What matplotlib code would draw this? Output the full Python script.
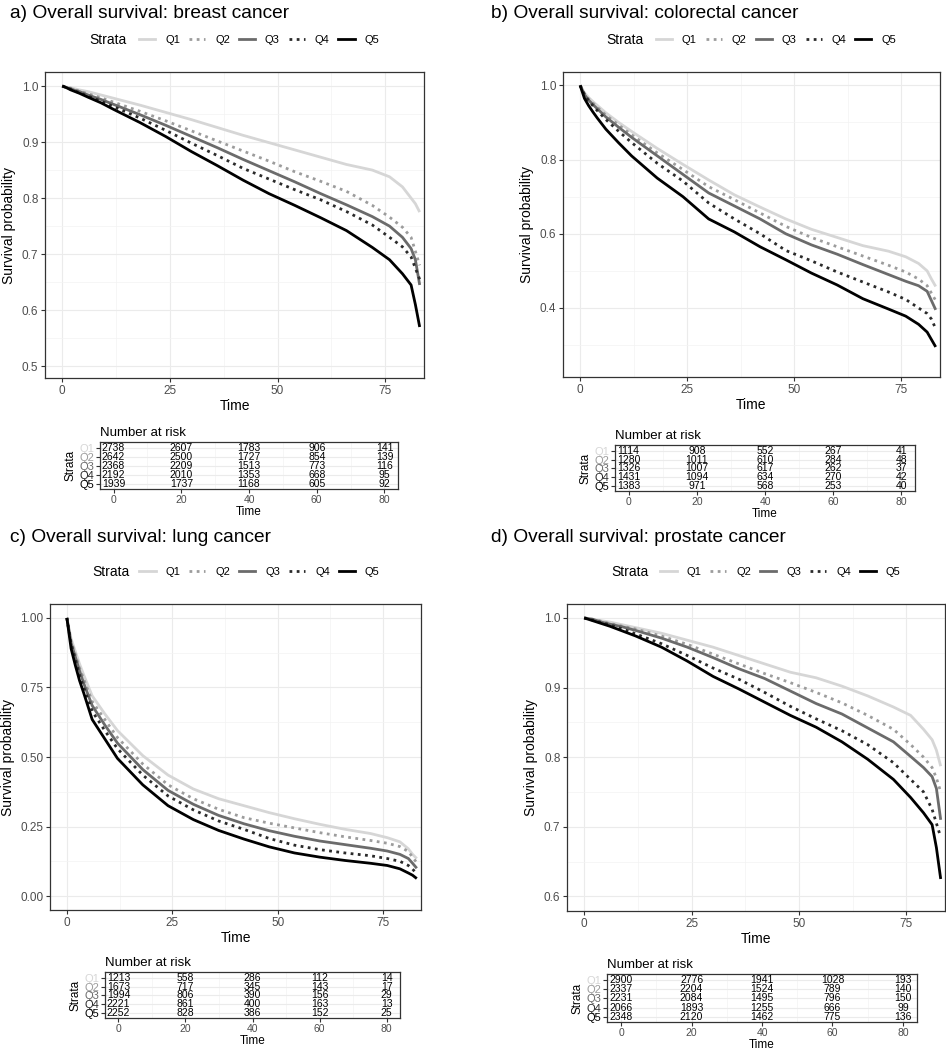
import matplotlib
matplotlib.use('Agg')
import matplotlib.pyplot as plt
from matplotlib.lines import Line2D

plt.rcParams['font.family'] = ['Liberation Sans', 'DejaVu Sans']

# follow-up time (months) at which the curves were read
months = [0, 1, 2, 3, 4, 6, 9, 12, 18, 24, 30, 36, 42, 48, 54, 60, 66, 72, 76, 79, 81, 82, 83]
strata = ['Q1', 'Q2', 'Q3', 'Q4', 'Q5']
risk_times = [0, 20, 40, 60, 80]

breast_surv = [
    [1.0, .998, .997, .995, .993, .99, .984, .978, .966, .953, .94, .926, .912, .899, .886, .873, .86, .85, .838, .82, .80, .79, .775],
    [1.0, .998, .996, .993, .991, .986, .979, .971, .955, .938, .92, .902, .884, .866, .847, .83, .812, .787, .766, .748, .73, .705, .68],
    [1.0, .997, .995, .992, .99, .984, .976, .967, .949, .93, .91, .89, .869, .849, .829, .808, .788, .767, .75, .73, .71, .69, .645],
    [1.0, .997, .994, .991, .988, .982, .973, .963, .943, .921, .898, .876, .853, .834, .815, .797, .776, .752, .73, .713, .695, .675, .655],
    [1.0, .997, .993, .99, .987, .98, .97, .958, .935, .91, .883, .858, .832, .808, .787, .765, .742, .712, .69, .665, .645, .61, .57],
]
colorectal_surv = [
    [1.0, .98, .967, .956, .946, .926, .90, .876, .83, .787, .745, .705, .672, .64, .612, .59, .568, .553, .538, .52, .50, .478, .458],
    [1.0, .978, .963, .952, .941, .92, .893, .867, .818, .773, .727, .692, .656, .62, .59, .565, .54, .515, .497, .478, .46, .44, .42],
    [1.0, .975, .96, .948, .937, .915, .887, .86, .81, .76, .71, .675, .64, .60, .57, .545, .517, .49, .472, .46, .445, .42, .395],
    [1.0, .975, .958, .945, .932, .908, .876, .846, .79, .742, .683, .64, .60, .555, .527, .497, .47, .443, .423, .40, .385, .37, .344],
    [1.0, .965, .945, .928, .912, .882, .845, .81, .75, .70, .64, .605, .565, .53, .494, .462, .425, .397, .378, .356, .335, .315, .295],
]
lung_surv = [
    [1.0, .925, .88, .835, .795, .72, .655, .595, .505, .435, .385, .35, .325, .30, .278, .258, .24, .225, .21, .195, .17, .15, .135],
    [1.0, .915, .87, .82, .78, .70, .635, .57, .475, .40, .35, .312, .282, .262, .245, .228, .213, .20, .19, .178, .16, .14, .12],
    [1.0, .91, .86, .81, .765, .685, .615, .55, .455, .38, .33, .29, .26, .235, .215, .198, .185, .172, .162, .15, .135, .118, .10],
    [1.0, .905, .85, .795, .75, .665, .595, .53, .435, .36, .31, .27, .24, .207, .183, .167, .155, .145, .135, .125, .11, .097, .08],
    [1.0, .89, .83, .775, .73, .635, .565, .495, .40, .325, .275, .236, .205, .177, .155, .14, .128, .118, .11, .098, .083, .075, .063],
]
prostate_surv = [
    [1.0, .999, .998, .997, .996, .994, .99, .986, .978, .968, .958, .946, .934, .922, .914, .902, .888, .872, .86, .84, .825, .81, .787],
    [1.0, .999, .998, .997, .995, .992, .988, .984, .974, .962, .948, .934, .92, .907, .893, .878, .86, .84, .818, .80, .785, .77, .75],
    [1.0, .999, .998, .996, .994, .991, .987, .982, .971, .958, .943, .927, .913, .895, .877, .862, .842, .822, .801, .785, .772, .755, .71],
    [1.0, .998, .997, .995, .993, .99, .984, .977, .963, .946, .928, .912, .893, .873, .855, .838, .818, .792, .768, .75, .725, .705, .685],
    [1.0, .998, .996, .994, .992, .988, .981, .974, .958, .938, .916, .898, .879, .86, .843, .822, .797, .768, .742, .72, .703, .67, .625],
]

breast_risk = [[2738, 2607, 1783, 906, 141], [2642, 2500, 1727, 854, 139], [2368, 2209, 1513, 773, 116],
               [2192, 2010, 1353, 668, 95], [1939, 1737, 1168, 605, 92]]
colorectal_risk = [[1114, 908, 552, 267, 41], [1280, 1011, 610, 284, 48], [1326, 1007, 617, 262, 37],
                   [1431, 1094, 634, 270, 42], [1383, 971, 568, 253, 40]]
lung_risk = [[1213, 558, 286, 112, 14], [1673, 717, 345, 143, 17], [1994, 806, 390, 156, 29],
             [2221, 861, 400, 163, 13], [2252, 828, 386, 152, 25]]
prostate_risk = [[2900, 2776, 1941, 1028, 193], [2337, 2204, 1524, 789, 140], [2231, 2084, 1495, 796, 150],
                 [2066, 1893, 1255, 666, 99], [2348, 2120, 1462, 775, 136]]

colors = ['#d6d6d6', '#9c9c9c', '#6b6b6b', '#2a2a2a', '#000000']
styles = ['-', (0, (1, 1.6)), '-', (0, (1, 1.6)), '-']

W, H = 946, 1050
fig = plt.figure(figsize=(W / 100, H / 100), dpi=100)


def rect(l, r, t, b):
    # pixel box -> figure fraction
    return [l / W, 1 - b / H, (r - l) / W, (b - t) / H]


def style_axes(ax):
    for sp in ax.spines.values():
        sp.set_color('#333333')
        sp.set_linewidth(0.9)
    ax.set_axisbelow(True)
    ax.grid(which='major', color='#ebebeb', lw=0.8)
    ax.grid(which='minor', color='#f3f3f3', lw=0.5)
    ax.tick_params(which='minor', length=0)
    ax.tick_params(which='major', length=2.75, width=0.8, color='#333333',
                   labelcolor='#4d4d4d', pad=2)


def draw_panel(title, title_pos, main_box, risk_box, surv, risk, ylim, yticks, yminor, fmt):
    fig.text(title_pos[0] / W, 1 - title_pos[1] / H, title, fontsize=13.8, va='center', ha='left')

    ax = fig.add_axes(rect(*main_box))
    for i in range(5):
        ax.plot(months, surv[i], color=colors[i], ls=styles[i], lw=2.0,
                solid_capstyle='butt', dash_capstyle='butt')
    ax.set_xlim(-4, 84)
    ax.set_ylim(*ylim)
    ax.set_xticks([0, 25, 50, 75])
    ax.set_xticks([12.5, 37.5, 62.5], minor=True)
    ax.set_yticks(yticks)
    ax.set_yticklabels([fmt % v for v in yticks])
    ax.set_yticks(yminor, minor=True)
    style_axes(ax)
    ax.tick_params(which='major', labelsize=8.5)
    ax.set_xlabel('Time', fontsize=10, labelpad=2)
    ax.set_ylabel('Survival probability', fontsize=10, labelpad=4)

    # legend row above the panel
    handles = [Line2D([], [], color=colors[i], ls=styles[i], lw=2.0) for i in range(5)]
    ax.legend(handles, strata, ncol=5, loc='center', bbox_to_anchor=(0.565, 1.105),
              frameon=False, fontsize=8, handlelength=1.45, handletextpad=0.9,
              columnspacing=0.8, borderaxespad=0, borderpad=0)
    ax.text(0.215, 1.105, 'Strata', transform=ax.transAxes, ha='right', va='center', fontsize=10)

    # number at risk table
    rax = fig.add_axes(rect(*risk_box))
    for i in range(5):
        for j, t in enumerate(risk_times):
            rax.text(t, 5 - i, str(risk[i][j]), ha='center', va='center', fontsize=7.5)
    rax.set_xlim(-4, 84)
    rax.set_ylim(0.45, 5.65)
    rax.set_xticks(risk_times)
    rax.set_xticks([10, 30, 50, 70], minor=True)
    rax.set_yticks([5, 4, 3, 2, 1])
    rax.set_yticklabels(strata)
    style_axes(rax)
    rax.tick_params(axis='x', which='major', labelsize=7.5, pad=1.5)
    rax.tick_params(axis='y', which='major', labelsize=8, pad=1.5)
    for lab, c in zip(rax.get_yticklabels(), colors):
        lab.set_color(c)
    rax.set_title('Number at risk', loc='left', fontsize=9.5, pad=4)
    rax.set_xlabel('Time', fontsize=8.5, labelpad=0.5)
    rax.set_ylabel('Strata', fontsize=8.5, labelpad=2)


draw_panel('a) Overall survival: breast cancer', (10, 14), (45, 424, 72, 378), (100, 398, 442, 489),
           breast_surv, breast_risk, (0.479, 1.025),
           [0.5, 0.6, 0.7, 0.8, 0.9, 1.0], [0.55, 0.65, 0.75, 0.85, 0.95], '%.1f')
draw_panel('b) Overall survival: colorectal cancer', (491, 14), (563, 940, 72, 377), (615, 915, 445, 491),
           colorectal_surv, colorectal_risk, (0.214, 1.036),
           [0.4, 0.6, 0.8, 1.0], [0.3, 0.5, 0.7, 0.9], '%.1f')
draw_panel('c) Overall survival: lung cancer', (10, 538), (50, 421, 604, 910), (105, 400, 972, 1018),
           lung_surv, lung_risk, (-0.05, 1.05),
           [0.0, 0.25, 0.5, 0.75, 1.0], [0.125, 0.375, 0.625, 0.875], '%.2f')
draw_panel('d) Overall survival: prostate cancer', (491, 538), (567, 945, 604, 911), (607, 917, 974, 1022),
           prostate_surv, prostate_risk, (0.579, 1.02),
           [0.6, 0.7, 0.8, 0.9, 1.0], [0.65, 0.75, 0.85, 0.95], '%.1f')

fig.savefig('out.png', dpi=100)
